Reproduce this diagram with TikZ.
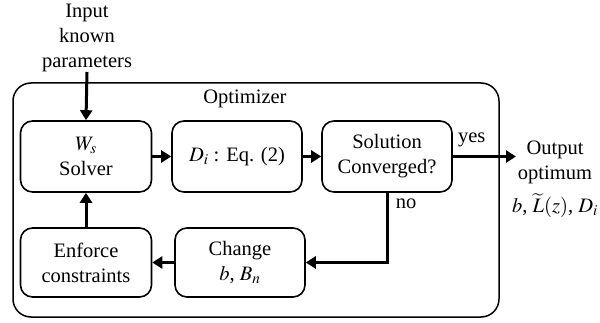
\documentclass[tikz,border=0pt]{standalone}
\usepackage{mathptmx}
\usepackage[no-math]{fontspec}
\setmainfont{Liberation Serif}
\usetikzlibrary{arrows.meta}
\begin{document}
\begin{tikzpicture}[x=1pt,y=-1pt,
  font=\fontsize{20.5}{25}\selectfont,
  blk/.style={draw, line width=1.6pt, rounded corners=12pt,
    minimum width=131pt, align=center, inner sep=0pt},
  flow/.style={line width=3pt, -{Triangle[length=10pt,width=12pt]}},
  lbl/.style={align=center, inner sep=0pt}]
\useasboundingbox (0,0) rectangle (600,323);

% optimizer frame
\node[draw, line width=1.5pt, rounded corners=18pt,
      minimum width=486pt, minimum height=234pt, inner sep=0pt]
      (opt) at (256,200) {};
\node[lbl] (optlbl) at (245,99) {Optimizer};

% blocks, top row
\node[blk, minimum height=71pt] (ws)  at (86,156.5)  {$W_s$\\Solver};
\node[blk, minimum height=71pt, minimum width=130pt] (di)  at (237,156.5) {$D_i$ : Eq. (2)};
\node[blk, minimum height=71pt, minimum width=130pt] (sol) at (387,156.5) {Solution\\Converged?};

% blocks, bottom row
\node[blk, minimum height=69pt] (enf) at (86,262.5)  {Enforce\\constraints};
\node[blk, minimum height=69pt, minimum width=130pt] (chg) at (240,262.5) {Change\\$b$, $B_n$};

% input and output texts
\node[lbl, anchor=south] (inp) at (87,72) {Input\\known\\parameters};
\node[lbl, anchor=north] (out) at (555,141) {Output\\optimum\\[8pt]$b$, $\widetilde{L}(z)$, $D_i$};
\coordinate (outtip) at (516,156.5);

% connectors
\draw[flow] (inp.south) -- (ws.north);
\draw[flow] (ws.east) -- (di.west);
\draw[flow] (di.east) -- (sol.west);
\draw[flow] (sol.east) -- (outtip) node[pos=0.3, lbl, above=8pt] (yes) {yes};
\draw[flow] (sol.south) |- (chg.east);
\draw[flow] (chg.west) -- (enf.east);
\draw[flow] (enf.north) -- (ws.south);
\node[lbl] (no) at (406,204) {no};
\end{tikzpicture}
\end{document}
